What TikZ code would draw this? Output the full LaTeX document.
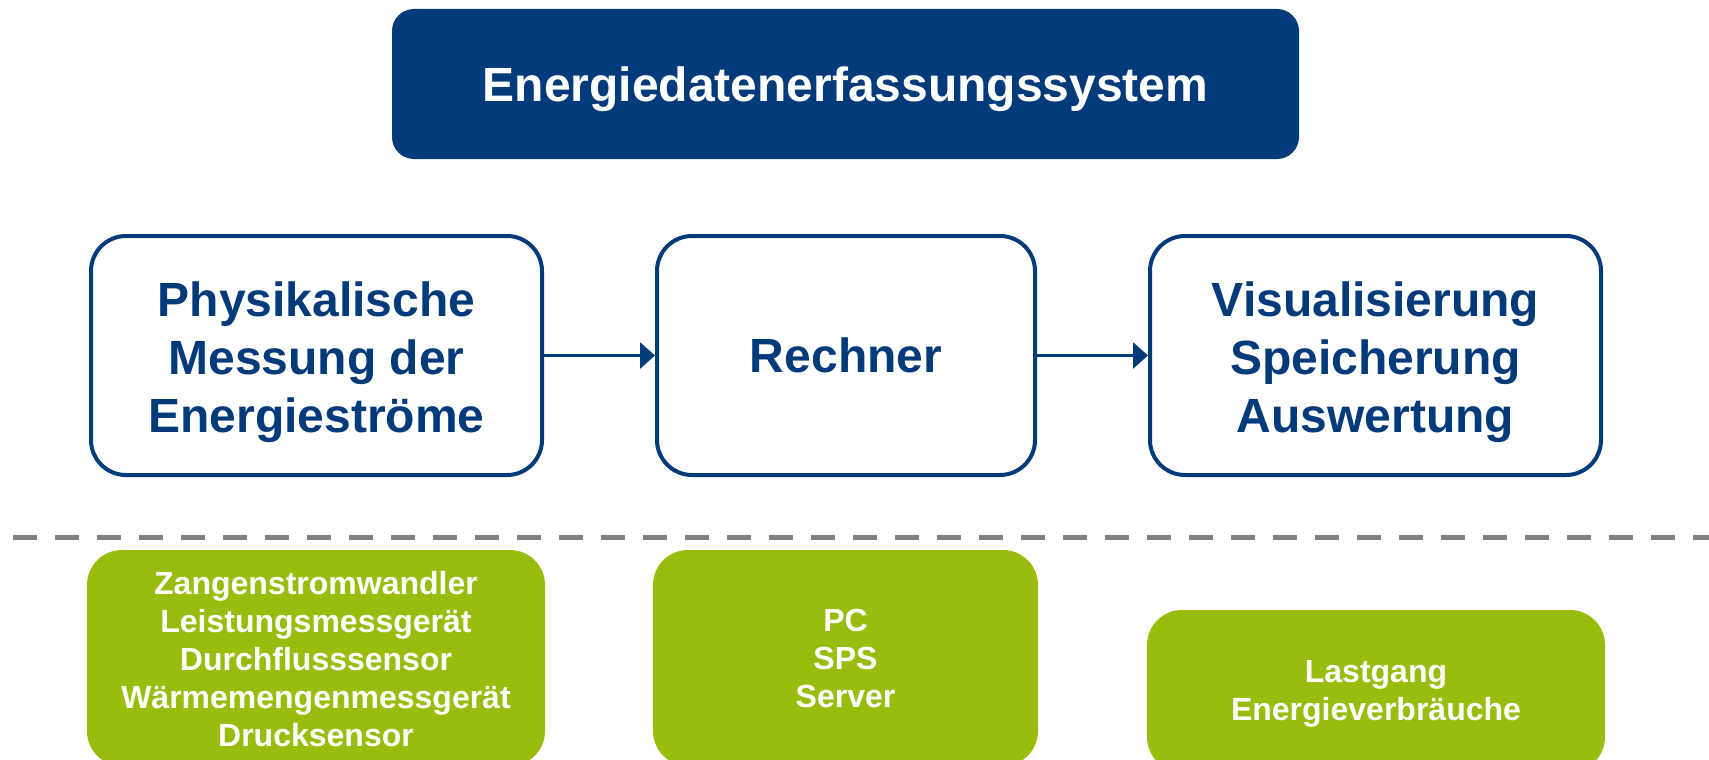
\documentclass[tikz,border=0pt]{standalone}
\usepackage{fontspec}
\setmainfont{Liberation Sans}
\usetikzlibrary{arrows.meta}
\definecolor{eblue}{RGB}{2,58,122}
\definecolor{egreen}{RGB}{153,189,14}
\definecolor{egray}{RGB}{128,128,128}
\tikzset{
  topbox/.style={fill=eblue, draw=none, rounded corners=22pt, minimum width=907pt, minimum height=150pt, inner sep=0pt},
  toptext/.style={text=white, inner sep=0pt, font=\bfseries\fontsize{48}{58}\selectfont},
  stagebox/.style={draw=eblue, line width=4pt, fill=white, rounded corners=35pt, minimum height=239pt, inner sep=0pt},
  stagetext/.style={text=eblue, inner sep=0pt, align=center, font=\bfseries\fontsize{48}{58}\selectfont},
  itembox/.style={fill=egreen, draw=none, rounded corners=35pt, inner sep=0pt},
  itemtext/.style={text=white, inner sep=0pt, align=center, font=\bfseries\fontsize{32}{38}\selectfont},
  flow/.style={draw=eblue, line width=3pt, -{Triangle[length=15pt,width=26pt]}},
  divider/.style={draw=egray, line width=5pt, dash pattern=on 24pt off 18pt}
}
\begin{document}
\begin{tikzpicture}[x=1pt,y=-1pt]
\useasboundingbox (0,0) rectangle (1709,760);
\clip (0,0) rectangle (1709,760);
% header
\node[topbox] (top) at (845.5,84) {};
\node[toptext] (top-t) at ([yshift=-5pt]top.center) {Energiedatenerfassungssystem};
% stages
\node[stagebox, minimum width=451pt] (mess) at (316.5,355.5) {};
\node[stagebox, minimum width=378pt] (rech) at (846,355.5) {};
\node[stagebox, minimum width=451pt] (vis) at (1375.5,355.5) {};
\node[stagetext] (mess-t) at ([yshift=-7pt]mess.center) {Physikalische\\Messung der\\Energieströme};
\node[stagetext] (rech-t) at (rech.center) {Rechner};
\node[stagetext] (vis-t) at ([yshift=-7pt]vis.center) {Visualisierung\\Speicherung\\Auswertung};
\draw[flow] (mess.east) -- (rech.west);
\draw[flow] (rech.east) -- (vis.west);
% divider
\coordinate (dl) at (13,537);
\coordinate (dr) at (1709,537);
\draw[divider] (dl) -- (dr);
% examples
\node[itembox, minimum width=458pt, minimum height=216pt] (sens) at (316,658) {};
\node[itembox, minimum width=385pt, minimum height=216pt] (hw) at (845.5,658) {};
\node[itembox, minimum width=458pt, minimum height=162pt] (res) at (1376,691) {};
\node[itemtext] (sens-t) at ([yshift=-1pt]sens.center) {Zangenstromwandler\\Leistungsmessgerät\\Durchflusssensor\\Wärmemengenmessgerät\\Drucksensor};
\node[itemtext] (hw-t) at (hw.center) {PC\\SPS\\Server};
\node[itemtext] (res-t) at ([yshift=-3pt]res.center) {Lastgang\\Energieverbräuche};
\end{tikzpicture}
\end{document}
